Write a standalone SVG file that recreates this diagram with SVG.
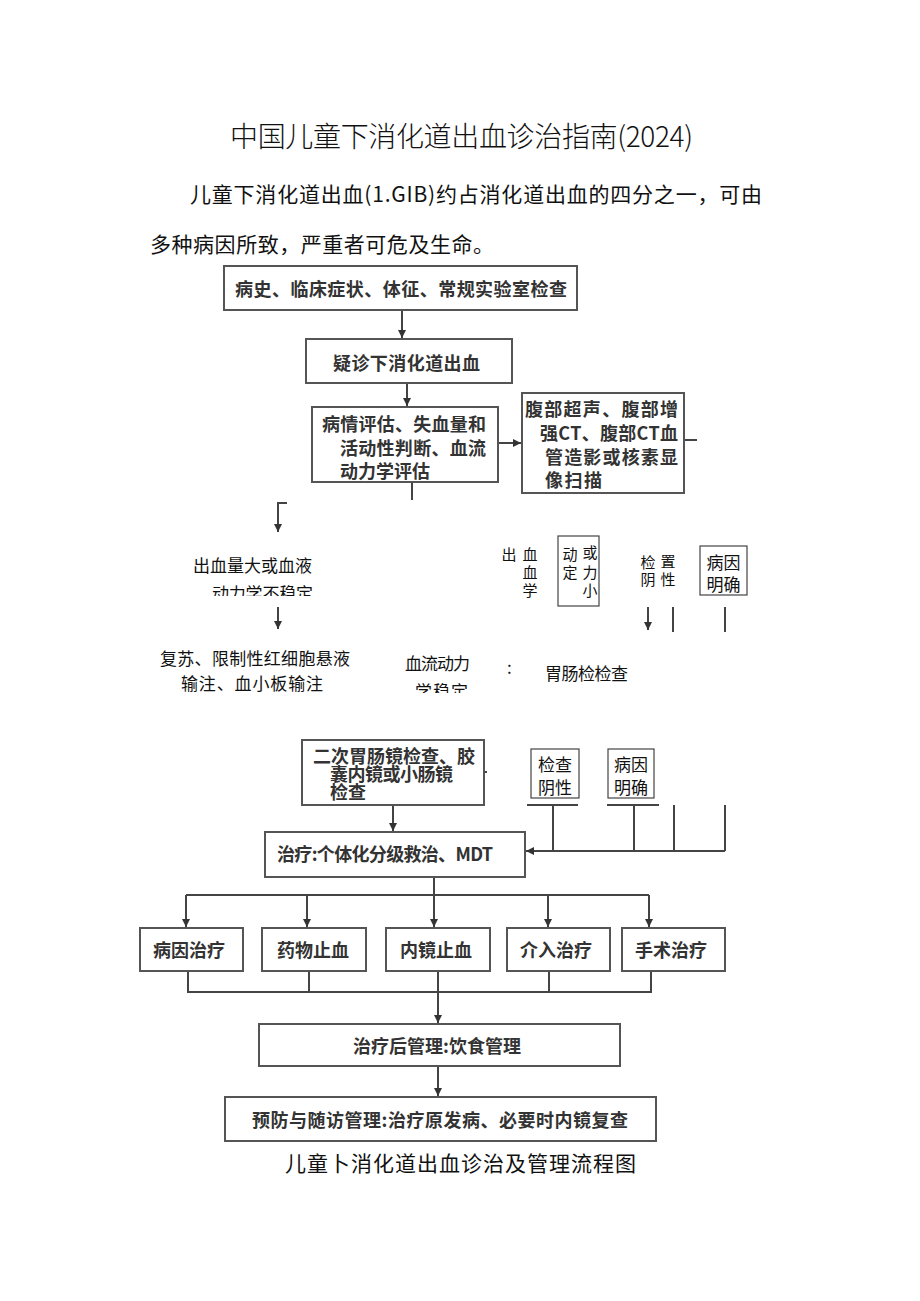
<svg xmlns="http://www.w3.org/2000/svg" width="920" height="1301" viewBox="0 0 920 1301">
<style>
.box{fill:#fff;stroke:#555;stroke-width:2}
.sbox{fill:#fff;stroke:#444;stroke-width:1.2}
.bt{font-family:"Noto Sans CJK SC","Liberation Sans",sans-serif;font-weight:bold;font-size:18px;fill:#333;dominant-baseline:central}
.nt{font-family:"Noto Sans CJK SC","Liberation Sans",sans-serif;font-size:17px;fill:#111;dominant-baseline:central}
.st{font-family:"Noto Sans CJK SC","Liberation Sans",sans-serif;font-size:15px;fill:#111;dominant-baseline:central;text-anchor:middle}
.ht{font-family:"Noto Sans CJK SC","Liberation Sans",sans-serif;fill:#111;dominant-baseline:central}
.ln{fill:none;stroke:#444;stroke-width:2}
.arr{fill:none;stroke:#444;stroke-width:2;marker-end:url(#ah)}
.c{text-anchor:middle}
</style>
<defs>
<marker id="ah" viewBox="0 0 8 8" refX="8" refY="4" markerWidth="8" markerHeight="8" markerUnits="userSpaceOnUse" orient="auto">
<path d="M0,0 L8,4 L0,8 z" fill="#333"/>
</marker>
<clipPath id="clipA"><rect x="150" y="570" width="200" height="26"/></clipPath>
<clipPath id="clipB"><rect x="400" y="675" width="100" height="18"/></clipPath>
</defs>
<rect width="920" height="1301" fill="#fff"/>

<g id="header">
<text class="ht" x="230" y="135" font-size="28" font-weight="300" textLength="463">中国儿童下消化道出血诊治指南(2024)</text>
<text class="ht" x="190" y="193" font-size="21" textLength="572">儿童下消化道出血(1.GIB)约占消化道出血的四分之一，可由</text>
<text class="ht" x="150" y="243" font-size="21" textLength="344">多种病因所致，严重者可危及生命。</text>
</g>

<g id="connectors">
<path class="arr" d="M402 310 V338"/>
<path class="arr" d="M407 383 V406"/>
<path class="ln" d="M412 482 V500"/>
<path class="arr" d="M287 503 H278 V532"/>
<path class="arr" d="M498 443 H521"/>
<path class="ln" d="M684 440 H697"/>
<path class="arr" d="M278 607 V629"/>
<path class="arr" d="M648 607 V630"/>
<path class="ln" d="M673 607 V632"/>
<path class="ln" d="M725 607 V632"/>
<path class="ln" d="M484 772 H487"/>
<path class="arr" d="M393 805 V831"/>
<path class="ln" d="M527 805 H578 M607 805 H659"/>
<path class="ln" d="M553 805 V851 M634 805 V851 M674 805 V851 M725 805 V851"/>
<path class="arr" d="M725 851 H526"/>
<path class="ln" d="M434 877 V895 M186 895 H649"/>
<path class="arr" d="M186 895 V927"/>
<path class="arr" d="M307 895 V927"/>
<path class="arr" d="M434 895 V927"/>
<path class="arr" d="M548 895 V927"/>
<path class="arr" d="M649 895 V927"/>
<path class="ln" d="M188 971 V992 H651 V971 M309 971 V992 M549 971 V992"/>
<path class="arr" d="M438 972 V1023"/>
<path class="arr" d="M438 1066 V1096"/>
</g>

<g id="n1"><rect class="box" x="224" y="266" width="353" height="44"/>
<text class="bt" x="235" y="288" textLength="332">病史、临床症状、体征、常规实验室检查</text></g>

<g id="n2"><rect class="box" x="306" y="339" width="206" height="44"/>
<text class="bt" x="333" y="362" textLength="147">疑诊下消化道出血</text></g>

<g id="n3"><rect class="box" x="312" y="407" width="186" height="75"/>
<text class="bt" x="322" y="423" textLength="164">病情评估、失血量和</text>
<text class="bt" x="340" y="447" textLength="146">活动性判断、血流</text>
<text class="bt" x="340" y="470" textLength="90">动力学评估</text></g>

<g id="n4"><rect class="box" x="522" y="393" width="162" height="100"/>
<text class="bt" x="525" y="408" textLength="153">腹部超声、腹部增</text>
<text class="bt" x="540" y="432" textLength="138">强CT、腹部CT血</text>
<text class="bt" x="545" y="456" textLength="133">管造影或核素显</text>
<text class="bt" x="545" y="479" textLength="57">像扫描</text></g>

<g id="n5">
<text class="nt" x="193" y="564" textLength="119">出血量大或血液</text>
<text class="nt" x="212" y="592" textLength="101" clip-path="url(#clipA)">动力学不稳定</text>
</g>

<g id="n6">
<text class="nt" x="160" y="657" textLength="190">复苏、限制性红细胞悬液</text>
<text class="nt" x="181" y="682" textLength="142">输注、血小板输注</text>
</g>

<g id="n7">
<text class="nt" x="405" y="662" textLength="65">血流动力</text>
<text class="nt" x="415" y="690" textLength="53" clip-path="url(#clipB)">学稳定</text>
<text class="nt" x="507" y="666" font-size="13">:</text>
<text class="nt" x="545" y="672" textLength="83">胃肠检检查</text>
</g>

<g id="n8">
<text class="st" x="509" y="553">出</text>
<text class="st" x="530" y="553">血</text>
<text class="st" x="530" y="571">血</text>
<text class="st" x="530" y="589">学</text>
</g>

<g id="n9"><rect class="sbox" x="558" y="536" width="41" height="70"/>
<text class="st" x="570" y="553">动</text>
<text class="st" x="590" y="551">或</text>
<text class="st" x="570" y="571">定</text>
<text class="st" x="590" y="571">力</text>
<text class="st" x="590" y="589">小</text>
</g>

<g id="n10">
<text class="st" x="648" y="561">检</text>
<text class="st" x="668" y="560">置</text>
<text class="st" x="648" y="578">阴</text>
<text class="st" x="668" y="578">性</text>
</g>

<g id="n11"><rect class="sbox" x="700" y="546" width="47" height="49"/>
<text class="nt c" x="723.5" y="561" font-size="16">病因</text>
<text class="nt c" x="723.5" y="583" font-size="16">明确</text>
</g>

<g id="n12"><rect class="box" x="302" y="740" width="182" height="65"/>
<text class="bt" x="313" y="755" font-size="16" textLength="162">二次胃肠镜检查、胶</text>
<text class="bt" x="330" y="773" font-size="16" textLength="123">囊内镜或小肠镜</text>
<text class="bt" x="330" y="791" font-size="16" textLength="36">检查</text></g>

<g id="n13"><rect class="sbox" x="531" y="749" width="48" height="49"/>
<text class="nt c" x="555" y="763" font-size="17">检查</text>
<text class="nt c" x="555" y="786" font-size="17">阴性</text></g>

<g id="n14"><rect class="sbox" x="608" y="749" width="46" height="49"/>
<text class="nt c" x="631" y="763" font-size="17">病因</text>
<text class="nt c" x="631" y="786" font-size="17">明确</text></g>

<g id="n15"><rect class="box" x="265" y="832" width="260" height="45"/>
<text class="bt" x="277" y="853" textLength="216">治疗:个体化分级救治、MDT</text></g>

<g id="n16"><rect class="box" x="140" y="928" width="103" height="43"/>
<text class="bt c" x="189" y="949">病因治疗</text></g>
<g id="n17"><rect class="box" x="262" y="928" width="104" height="43"/>
<text class="bt c" x="313" y="949">药物止血</text></g>
<g id="n18"><rect class="box" x="386" y="928" width="104" height="43"/>
<text class="bt c" x="436" y="949">内镜止血</text></g>
<g id="n19"><rect class="box" x="507" y="928" width="103" height="43"/>
<text class="bt c" x="556" y="949">介入治疗</text></g>
<g id="n20"><rect class="box" x="622" y="928" width="103" height="43"/>
<text class="bt c" x="671" y="949">手术治疗</text></g>

<g id="n21"><rect class="box" x="259" y="1024" width="361" height="42"/>
<text class="bt c" x="437" y="1045">治疗后管理:饮食管理</text></g>

<g id="n22"><rect class="box" x="225" y="1097" width="431" height="44"/>
<text class="bt" x="252" y="1119" textLength="376">预防与随访管理:治疗原发病、必要时内镜复查</text></g>

<g id="caption">
<text class="ht" x="285" y="1162" font-size="21" textLength="351">儿童卜消化道出血诊治及管理流程图</text>
</g>
</svg>
